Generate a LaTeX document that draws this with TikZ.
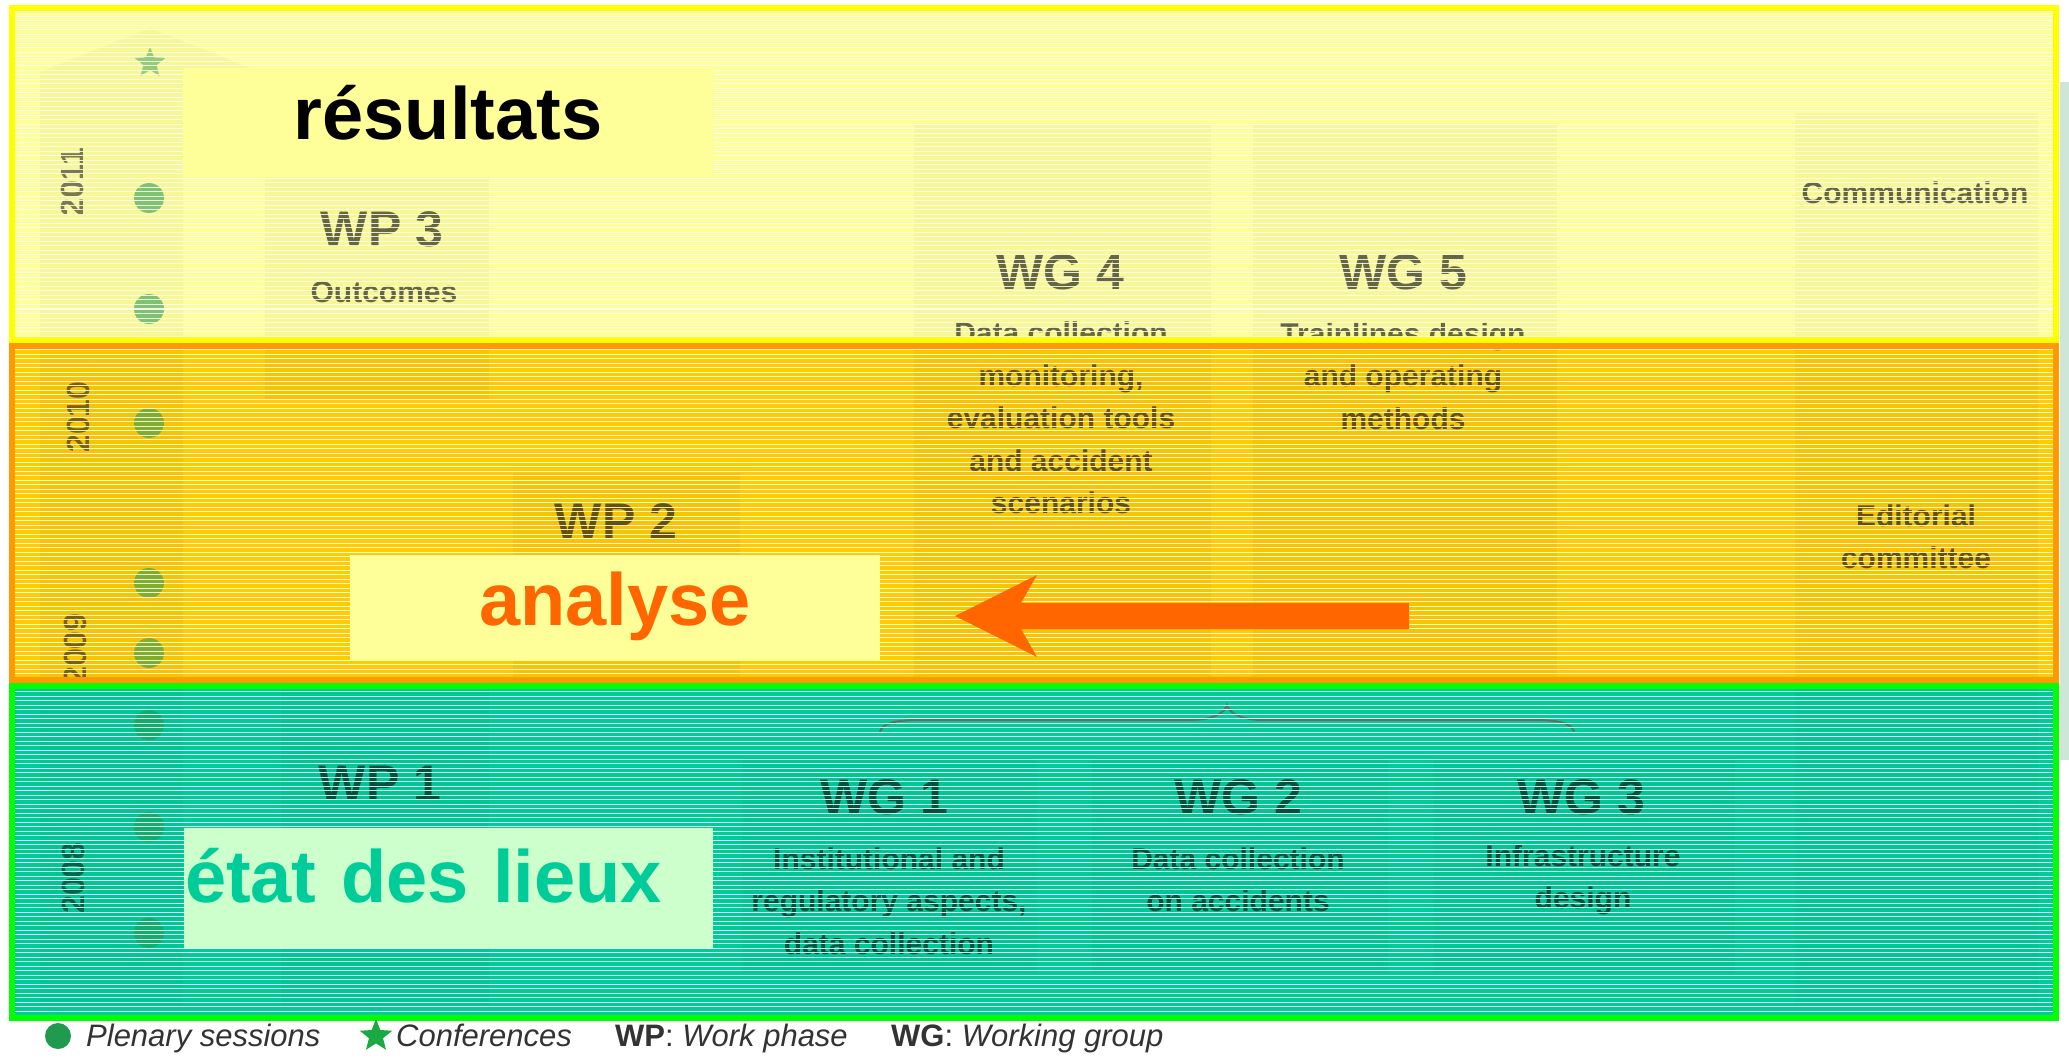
\documentclass[tikz,border=0pt]{standalone}
\usepackage{fontspec}
\setmainfont{Liberation Sans}
\usetikzlibrary{shapes.geometric}
\definecolor{bandY}{HTML}{FFFF99}
\definecolor{bandO}{HTML}{FFCC00}
\definecolor{bandG}{HTML}{00CC99}
\definecolor{brdY}{HTML}{FFFF00}
\definecolor{brdO}{HTML}{FF9900}
\definecolor{brdG}{HTML}{00FF00}
\definecolor{arrowO}{HTML}{FF6600}
\definecolor{labG}{HTML}{CCFFCC}
\definecolor{dotG}{HTML}{1F9A4F}
\definecolor{legGray}{HTML}{333333}
\definecolor{braceCol}{HTML}{8C3C46}
\definecolor{sideStrip}{HTML}{CDE6D7}
\tikzset{
  faintbox/.style={fill=black, fill opacity=0.03, draw=none},
  wptitle/.style={font=\bfseries\fontsize{50}{54}\selectfont, text=black, text opacity=0.58, inner sep=0},
  wgtext/.style={font=\bfseries\fontsize{30}{42.5}\selectfont, text=black, text opacity=0.58, align=center, inner sep=0},
  yearlbl/.style={font=\bfseries\fontsize{32}{34}\selectfont, text=black, text opacity=0.5, rotate=90, inner sep=0},
  plendot/.style={circle, fill=dotG, fill opacity=0.55, minimum size=30pt, inner sep=0},
  confstar/.style={star, star points=5, star point ratio=2.3, fill=dotG, fill opacity=0.45, minimum size=32pt, inner sep=0},
  bigbox/.style={inner sep=0, font=\bfseries\fontsize{74}{80}\selectfont},
  legtext/.style={font=\fontsize{31}{34}\selectfont, text=legGray, inner sep=0, anchor=base west},
}
\begin{document}
\begin{tikzpicture}[x=1pt,y=-1pt]
\useasboundingbox (0,0) rectangle (2069,1059);
\fill[white] (0,0) rectangle (2069,1059);
\fill[sideStrip] (2060,82) rectangle (2069,760);

% bands
\fill[bandY] (12,8) rectangle (2056,340);
\fill[bandO] (12,346) rectangle (2056,680);
\fill[bandG] (12,686) rectangle (2056,1018);

% faint underlying table
\fill[faintbox] (40,1005) -- (40,72) -- (150,28) -- (260,72) -- (183,72) -- (183,1005) -- cycle;
\fill[faintbox] (265,177) rectangle (489,400);
\fill[faintbox] (513,473) rectangle (740,680);
\fill[faintbox] (281,690) rectangle (489,1005);
\fill[faintbox] (914,125) rectangle (1211,680);
\fill[faintbox] (1253,125) rectangle (1557,680);
\fill[faintbox] (742,758) rectangle (1037,973);
\fill[faintbox] (1092,758) rectangle (1388,973);
\fill[faintbox] (1434,758) rectangle (1735,973);
\fill[faintbox] (1795,113) rectangle (2038,1005);

% timeline
\node[confstar] (conf) at (150,63) {};
\node[plendot] (p1) at (149,198) {};
\node[plendot] (p2) at (149,309) {};
\node[plendot] (p3) at (149,423) {};
\node[plendot] (p4) at (149,583) {};
\node[plendot] (p5) at (149,653) {};
\node[plendot] (p6) at (149,725) {};
\node[plendot] (p7) at (149,827) {};
\node[plendot] (p8) at (149,933) {};
\node[yearlbl] (y4) at (72,182) {2011};
\node[yearlbl] (y3) at (78,417) {2010};
\node[yearlbl] (y2) at (75,649) {2009};
\node[yearlbl] (y1) at (73,878) {2008};

% work phases
\node[wptitle] (wp3) at (382,229) {WP 3};
\node[wgtext] (wp3s) at (384,292) {Outcomes};
\node[wptitle] (wp2) at (616,521) {WP 2};
\node[wptitle] (wp1) at (380,783) {WP 1};

% working groups
\node[wptitle] (wg4) at (1060,272) {WG 4};
\node[wgtext] (wg4s) at (1061,418) {Data collection\\monitoring,\\evaluation tools\\and accident\\scenarios};
\node[wptitle] (wg5) at (1403,272) {WG 5};
\node[wgtext] (wg5s) at (1403,376) {Trainlines design\\and operating\\methods};
\node[wgtext] (comm) at (1915,193) {Communication};
\node[wgtext] (edit) at (1916,537) {Editorial\\committee};
\node[wptitle] (wg1) at (884,797) {WG 1};
\node[wgtext] (wg1s) at (889,901) {Institutional and\\regulatory aspects,\\data collection};
\node[wptitle] (wg2) at (1238,797) {WG 2};
\node[wgtext] (wg2s) at (1238,880) {Data collection\\on accidents};
\node[wptitle] (wg3) at (1581,797) {WG 3};
\node[wgtext] (wg3s) at (1583,880) {Infrastructure\\design};
\draw[braceCol, line width=2pt, opacity=0.6]
  (880,732) .. controls (882,722) and (900,720) .. (920,720) -- (1190,720)
  .. controls (1215,720) and (1225,712) .. (1227,705)
  .. controls (1229,712) and (1239,720) .. (1264,720) -- (1534,720)
  .. controls (1554,720) and (1572,722) .. (1574,732);

% scan stripes
\foreach \yy in {12,16.5,...,1016} {\draw[white, line width=1pt, opacity=0.85] (15,\yy) -- (2053,\yy);}

% band borders
\draw[brdY, line width=6pt] (12,8) rectangle (2056,340);
\draw[brdO, line width=6pt] (12,346) rectangle (2056,680);
\draw[brdG, line width=6pt] (12,686) rectangle (2056,1018);

% big labels
\node[bigbox, fill=bandY, minimum width=530pt, minimum height=109pt, text height=60pt, text depth=25pt, text=black] (res) at (448,122.5) {résultats};
\node[bigbox, fill=bandY, minimum width=530pt, minimum height=106pt, text height=60pt, text depth=26pt, text=arrowO] (ana) at (615,608) {analyse};
\node[bigbox, fill=labG, minimum height=120pt, text width=527pt, inner xsep=1pt, align=left, text height=60pt, text depth=32pt, text=bandG] (etat) at (448.5,888) {état des lieux};

% arrow
\coordinate (arrtail) at (1409,616);
\coordinate (arrtip) at (955,616);
\fill[arrowO] (arrtip) -- ++(82,-41) -- ++(-16,28) -- (arrtail |- 0,603) -- (arrtail |- 0,629) -- (1021,629) -- ++(16,28) -- cycle;

% legend
\node[circle, fill=dotG, minimum size=26pt, inner sep=0] (ldot) at (58,1036) {};
\node[legtext] (lt1) at (86,1046) {\itshape Plenary sessions};
\node[star, star points=5, star point ratio=2.3, fill=dotG!85!green, minimum size=34pt, inner sep=0] (lstar) at (376,1036) {};
\node[legtext] (lt2) at (396,1046) {\itshape Conferences};
\node[legtext] (lt3) at (615,1046) {\textbf{WP}: \textit{Work phase}};
\node[legtext] (lt4) at (891,1046) {\textbf{WG}: \textit{Working group}};
\end{tikzpicture}
\end{document}
